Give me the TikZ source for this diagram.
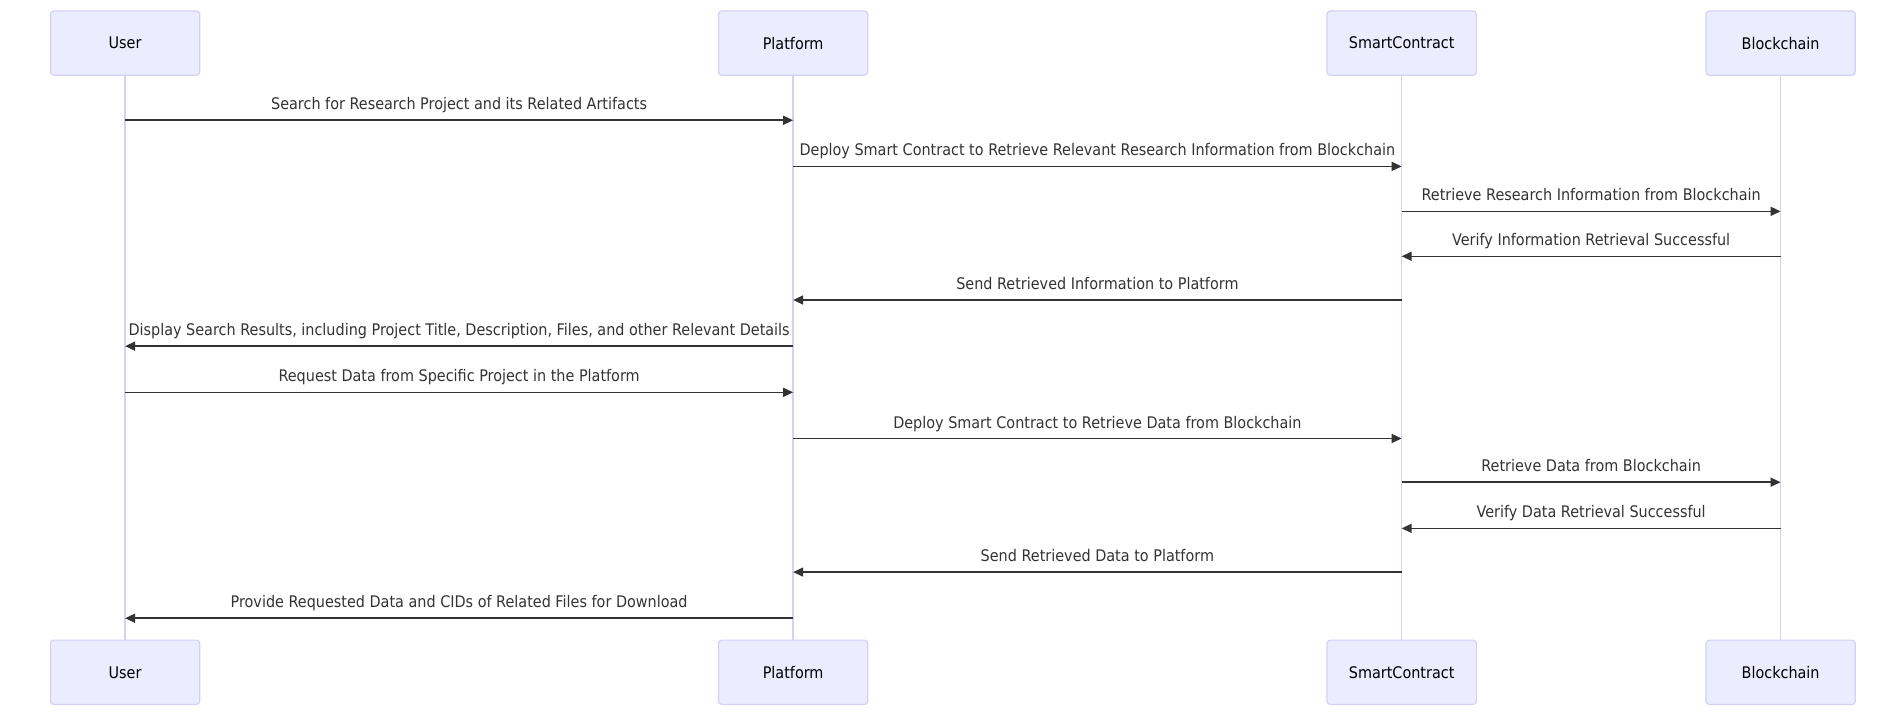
\documentclass[tikz,border=0pt]{standalone}
\usepackage{fontspec}
\setmainfont{DejaVu Sans}[FakeStretch=0.9]
\usetikzlibrary{positioning, arrows.meta}
\definecolor{actfill}{HTML}{ECECFF}
\definecolor{actline}{HTML}{D6D0F2}
\definecolor{msgtxt}{HTML}{333333}

\begin{document}
\begin{tikzpicture}[x=1.2146pt, y=-1.2146pt,
    actor/.style={draw=actline, fill=actfill, line width=1.2pt, rounded corners=3.5pt,
      minimum width=149.4pt, minimum height=64.4pt, inner sep=0pt, font=\fontsize{16}{19}\selectfont},
    life/.style={draw=actline, line width=1.6pt},
    msg/.style={draw=msgtxt, line width=1.5pt, -{Triangle[length=10pt, width=9pt]}},
    lbl/.style={anchor=base, yshift=10.4pt, inner sep=0pt, text=msgtxt, font=\fontsize{16}{19}\selectfont}]
        \useasboundingbox (0pt,0pt) rectangle (1904pt,-714pt);

        \foreach \i/\x/\name in {1/103/User, 2/653/Platform, 3/1154/SmartContract, 4/1466/Blockchain}
        {
        \draw node[actor] (t\i) at (\x,35.5) {\name};
        \draw node[actor, below=563.6pt of t\i] (b\i) {\name};
        \draw[life] (t\i) -- (b\i);
        }

        \foreach \n/\y/\f/\t/\txt in {
          1/99/1/2/{Search for Research Project and its Related Artifacts},
          2/137/2/3/{Deploy Smart Contract to Retrieve Relevant Research Information from Blockchain},
          3/174/3/4/{Retrieve Research Information from Blockchain},
          4/211/4/3/{Verify Information Retrieval Successful},
          5/247/3/2/{Send Retrieved Information to Platform},
          6/285/2/1/{Display Search Results, including Project Title, Description, Files, and other Relevant Details},
          7/323/1/2/{Request Data from Specific Project in the Platform},
          8/361/2/3/{Deploy Smart Contract to Retrieve Data from Blockchain},
          9/397/3/4/{Retrieve Data from Blockchain},
          10/435/4/3/{Verify Data Retrieval Successful},
          11/471/3/2/{Send Retrieved Data to Platform},
          12/509/2/1/{Provide Requested Data and CIDs of Related Files for Download}}
        {
        \coordinate (s\n) at (t\f |- 0,\y);
        \coordinate (e\n) at (t\t |- 0,\y);
        \draw[msg] (s\n) -- node[lbl, midway] (l\n) {\txt} (e\n);
        }
      \end{tikzpicture}
\end{document}
